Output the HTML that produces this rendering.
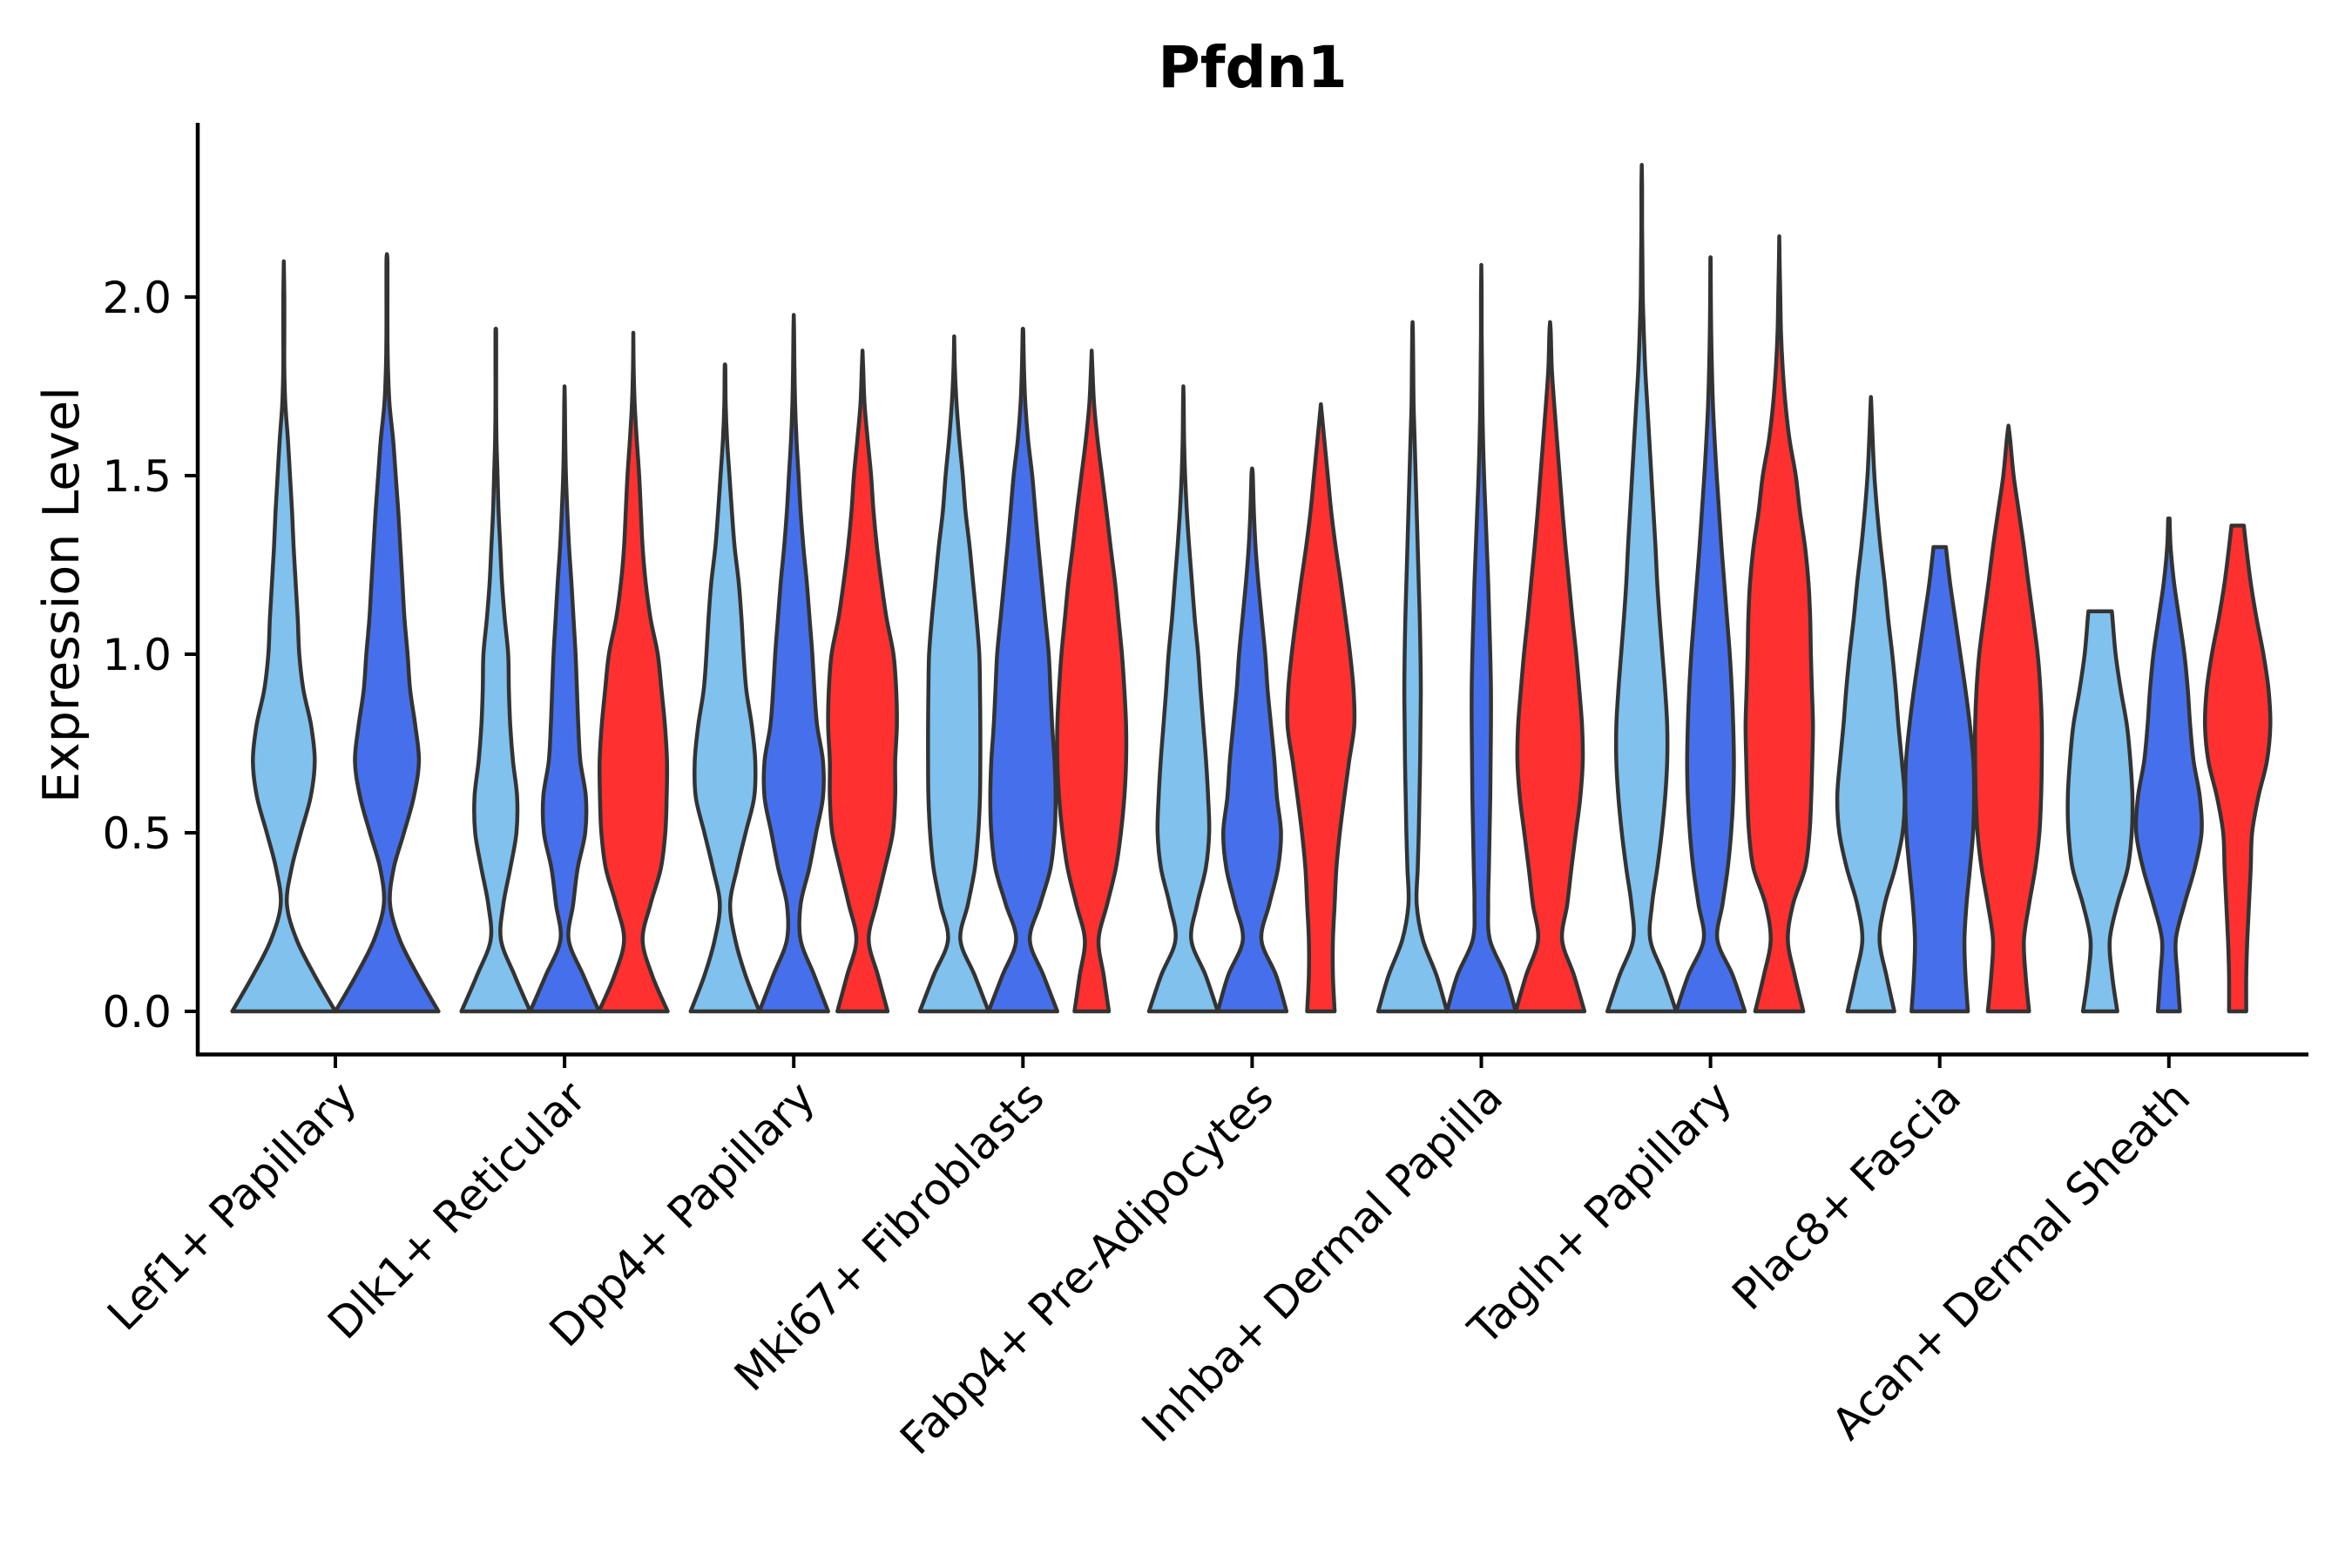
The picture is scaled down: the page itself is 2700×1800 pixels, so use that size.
<!DOCTYPE html>
<html><head><meta charset="utf-8"><style>
html,body{margin:0;padding:0;background:#fff;}
svg{display:block;font-family:"DejaVu Sans","Liberation Sans",sans-serif;}
</style></head><body>
<svg id="chart" width="2700" height="1800" viewBox="0 0 2700 1800">
<text x="1438" y="100" font-size="66" font-weight="bold" text-anchor="middle">Pfdn1</text>
<text transform="translate(90,683) rotate(-90)" font-size="57" text-anchor="middle">Expression Level</text>
<g id="violins"></g>
<g id="axes"></g>
</svg>
<script>
const categories = ["Lef1+ Papillary","Dlk1+ Reticular","Dpp4+ Papillary","Mki67+ Fibroblasts","Fabp4+ Pre-Adipocytes","Inhba+ Dermal Papilla","Tagln+ Papillary","Plac8+ Fascia","Acan+ Dermal Sheath"];
const groupColors = ["#80C1EE","#4670EB","#FF3030"];
const yTicks = [0,0.5,1.0,1.5,2.0];
const yTickLabels = ["0.0","0.5","1.0","1.5","2.0"];
// each violin: category index, group index, top value, flat-top width, density profile at 0.1 steps
const violinCat = [0,0, 1,1,1, 2,2,2, 3,3,3, 4,4,4, 5,5,5, 6,6,6, 7,7,7, 8,8,8];
const violinGroup = [0,1, 0,1,2, 0,1,2, 0,1,2, 0,1,2, 0,1,2, 0,1,2, 0,1,2, 0,1,2];
const violinTop = [2.10,2.12, 1.91,1.75,1.90, 1.81,1.95,1.85, 1.89,1.91,1.85, 1.75,1.52,1.70, 1.93,2.09,1.93, 2.37,2.11,2.17, 1.72,1.30,1.64, 1.12,1.38,1.36];
const violinTopW = [0,0, 0,0,0, 0,0,0, 0,0,0, 0,0,0, 0,0,0, 0,0,0, 0,0.18,0, 0.34,0.02,0.18];
const violinDens = [
[1,0.6,0.25,0.06,0.15,0.33,0.52,0.6,0.53,0.38,0.3,0.27,0.23,0.19,0.16,0.12,0.08,0.03,0.01,0.01,0.01,0.01],
[1,0.6,0.25,0.06,0.13,0.33,0.52,0.62,0.55,0.45,0.4,0.34,0.3,0.26,0.22,0.17,0.12,0.05,0.02,0.01,0.01,0.01],
[1,0.55,0.15,0.22,0.42,0.6,0.62,0.5,0.42,0.38,0.36,0.26,0.18,0.13,0.08,0.05,0.02,0.01,0.01,0.01],
[1,0.55,0.12,0.25,0.38,0.6,0.62,0.46,0.4,0.36,0.32,0.26,0.2,0.13,0.08,0.04,0.02,0.01],
[1,0.55,0.27,0.5,0.8,0.93,0.97,0.98,0.92,0.82,0.71,0.5,0.36,0.27,0.22,0.17,0.1,0.04,0.01,0.005],
[1,0.6,0.3,0.15,0.35,0.6,0.85,0.88,0.78,0.62,0.54,0.48,0.4,0.28,0.2,0.13,0.06,0.02,0.01],
[1,0.6,0.2,0.2,0.45,0.65,0.85,0.85,0.68,0.6,0.54,0.46,0.38,0.28,0.2,0.14,0.08,0.04,0.02,0.01],
[0.73,0.45,0.18,0.4,0.65,0.88,0.95,0.95,1.0,0.98,0.9,0.7,0.55,0.42,0.32,0.25,0.15,0.06,0.02],
[1,0.6,0.18,0.4,0.6,0.7,0.75,0.76,0.76,0.75,0.73,0.65,0.55,0.45,0.33,0.25,0.15,0.07,0.02],
[1,0.6,0.2,0.5,0.8,0.92,0.95,0.92,0.85,0.8,0.75,0.65,0.55,0.45,0.36,0.27,0.15,0.07,0.03,0.01],
[0.5,0.35,0.2,0.45,0.7,0.85,0.95,1.0,1.0,0.95,0.88,0.78,0.68,0.55,0.43,0.3,0.17,0.07,0.02],
[1,0.65,0.23,0.4,0.65,0.75,0.72,0.66,0.58,0.5,0.43,0.33,0.25,0.17,0.1,0.05,0.02,0.01],
[1,0.7,0.27,0.5,0.75,0.84,0.72,0.65,0.55,0.45,0.38,0.28,0.18,0.1,0.05,0.02],
[0.4,0.35,0.35,0.4,0.45,0.55,0.68,0.82,0.97,0.95,0.85,0.72,0.58,0.43,0.3,0.2,0.1,0.03],
[1,0.7,0.3,0.12,0.15,0.18,0.2,0.22,0.23,0.24,0.23,0.21,0.18,0.15,0.12,0.09,0.06,0.03,0.02,0.01],
[1,0.7,0.25,0.2,0.22,0.24,0.26,0.27,0.28,0.28,0.26,0.23,0.2,0.16,0.12,0.08,0.05,0.03,0.02,0.01,0.01],
[1,0.7,0.35,0.5,0.62,0.75,0.88,0.95,0.93,0.85,0.76,0.65,0.55,0.45,0.36,0.28,0.2,0.12,0.05,0.02],
[1,0.65,0.25,0.3,0.45,0.58,0.68,0.74,0.74,0.68,0.6,0.52,0.45,0.4,0.34,0.28,0.22,0.16,0.1,0.06,0.03,0.02,0.01,0.01],
[1,0.65,0.2,0.35,0.5,0.6,0.66,0.68,0.66,0.62,0.56,0.48,0.4,0.32,0.25,0.18,0.12,0.07,0.04,0.02,0.01,0.005],
[0.7,0.45,0.25,0.4,0.75,0.88,0.93,0.96,0.98,0.95,0.92,0.9,0.85,0.75,0.6,0.48,0.3,0.18,0.1,0.05,0.03,0.01],
[0.68,0.45,0.25,0.4,0.7,0.92,0.98,0.9,0.8,0.72,0.62,0.5,0.4,0.28,0.18,0.1,0.05,0.01],
[0.82,0.75,0.72,0.78,0.88,0.97,1.0,0.98,0.88,0.75,0.6,0.45,0.3,0.2],
[0.6,0.5,0.45,0.6,0.78,0.9,0.95,0.97,0.97,0.93,0.85,0.72,0.58,0.45,0.3,0.15,0.05],
[0.5,0.35,0.28,0.5,0.8,0.92,0.94,0.88,0.78,0.6,0.45,0.36],
[0.32,0.25,0.2,0.45,0.75,0.95,0.9,0.72,0.62,0.55,0.45,0.3,0.15,0.05],
[0.25,0.25,0.28,0.33,0.38,0.42,0.6,0.85,0.95,0.9,0.75,0.55,0.38,0.25]
];

const NS = "http://www.w3.org/2000/svg";
const X0 = 385, XSTEP = 263.1;
const Y0 = 1161, YUNIT = 410;
const xScale = i => X0 + i * XSTEP;
const yScale = v => Y0 - v * YUNIT;
const dodge = 0.9 * XSTEP;

function catmull(pts){
  let d = "M" + pts[0][0].toFixed(2) + "," + pts[0][1].toFixed(2);
  for (let i = 0; i < pts.length - 1; i++) {
    const p0 = pts[Math.max(0,i-1)], p1 = pts[i], p2 = pts[i+1], p3 = pts[Math.min(pts.length-1,i+2)];
    const c1x = p1[0] + (p2[0]-p0[0])/6, c1y = p1[1] + (p2[1]-p0[1])/6;
    const c2x = p2[0] - (p3[0]-p1[0])/6, c2y = p2[1] - (p3[1]-p1[1])/6;
    d += "C" + c1x.toFixed(2) + "," + c1y.toFixed(2) + " " + c2x.toFixed(2) + "," + c2y.toFixed(2) + " " + p2[0].toFixed(2) + "," + p2[1].toFixed(2);
  }
  return d;
}

const vg = document.getElementById("violins");
const groupsPerCat = categories.map((c, ci) => violinCat.filter(x => x === ci).length);
for (let k = 0; k < violinCat.length; k++) {
  const ci = violinCat[k], gi = violinGroup[k];
  const n = groupsPerCat[ci];
  const slot = dodge / n;
  const idx = violinCat.slice(0, k).filter(x => x === ci).length;
  const cx = xScale(ci) - dodge/2 + slot*(idx + 0.5);
  const hw = slot / 2;
  const dens = violinDens[k], top = violinTop[k];
  const prof = [];
  for (let i = 0; i < dens.length; i++) {
    const v = i * 0.1;
    if (v < top - 0.001) prof.push([v, dens[i]]);
  }
  prof.push([top, violinTopW[k]]);
  const right = prof.map(p => [cx + p[1]*hw, yScale(p[0])]);
  const left = prof.slice().reverse().map(p => [cx - p[1]*hw, yScale(p[0])]);
  let d = catmull(right);
  d += "L" + left[0][0].toFixed(2) + "," + left[0][1].toFixed(2);
  d += catmull(left).replace(/^M[^C]*/, "");
  d += "Z";
  const path = document.createElementNS(NS, "path");
  path.setAttribute("d", d);
  path.setAttribute("fill", groupColors[gi]);
  path.setAttribute("stroke", "#333333");
  path.setAttribute("stroke-width", "4.5");
  path.setAttribute("stroke-linejoin", "round");
  
  
  vg.appendChild(path);
}

const ag = document.getElementById("axes");
function line(x1,y1,x2,y2,w,name){
  const l = document.createElementNS(NS,"line");
  l.setAttribute("x1",x1); l.setAttribute("y1",y1); l.setAttribute("x2",x2); l.setAttribute("y2",y2);
  l.setAttribute("stroke","#000"); l.setAttribute("stroke-width",w);
  
  
  ag.appendChild(l);
}
line(227,141,227,1212,4.5,"y-axis-line");
line(225,1210.5,2650,1210.5,4.5,"x-axis-line");
yTicks.forEach((t,i) => {
  const y = yScale(t);
  line(212,y,227,y,4,"y-tick");
  const tx = document.createElementNS(NS,"text");
  tx.setAttribute("x",197); tx.setAttribute("y",y+18);
  tx.setAttribute("font-size","50"); tx.setAttribute("text-anchor","end");
  tx.textContent = yTickLabels[i];
  
  
  ag.appendChild(tx);
});
categories.forEach((c,i) => {
  const x = xScale(i);
  line(x,1210,x,1226,4,"x-tick");
  const tx = document.createElementNS(NS,"text");
  const ax = x + 27, ay = 1263;
  tx.setAttribute("transform","translate(" + ax + "," + ay + ") rotate(-45)");
  tx.setAttribute("font-size","50"); tx.setAttribute("text-anchor","end");
  tx.textContent = c;
  
  
  ag.appendChild(tx);
});
</script>
</body></html>
